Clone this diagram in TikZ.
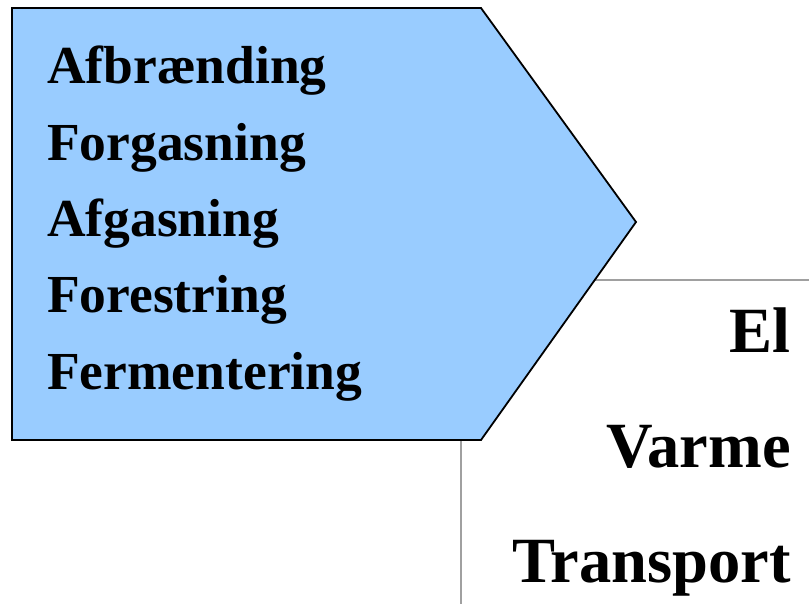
\documentclass[tikz,border=0pt]{standalone}
\usepackage{fontspec}
\setmainfont{Liberation Serif}
\definecolor{lyseblaa}{HTML}{99CCFF}
\definecolor{linjegraa}{HTML}{A0A0A0}
\begin{document}
\begin{tikzpicture}[x=1pt, y=-1pt, line join=miter]
			\def\xmin{12}\def\xmax{481}\def\xtip{636}\def\ytop{8}\def\ybot{440}
			\useasboundingbox (0,0) rectangle (809,604);
			% skillelinjer
			\draw[linjegraa, line width=1.6pt] (560,280) -- (809,280);
			\draw[linjegraa, line width=1.6pt] (461,\ybot) -- (461,604);
			% pil
			\filldraw[fill=lyseblaa, draw=black, line width=1.8pt] (\xmin,\ytop) -- (\xmax,\ytop) -- (\xtip,222) -- (\xmax,\ybot) -- (\xmin,\ybot) -- cycle;
			\foreach \txt [count=\i] in {Afbrænding,Forgasning,Afgasning,Forestring,Fermentering}{
				\node[anchor=base west, inner sep=0pt, font=\fontsize{53.5}{60}\selectfont\bfseries] (proc\i) at (47,{84+76.3*(\i-1)}) {\txt};
			}
			\node[anchor=base east, inner sep=0pt, font=\fontsize{64.5}{70}\selectfont\bfseries] (el) at (791,352) {El};
			\node[anchor=base east, inner sep=0pt, font=\fontsize{64.5}{70}\selectfont\bfseries] (varme) at (791,467) {Varme};
			\node[anchor=base east, inner sep=0pt, font=\fontsize{64.5}{70}\selectfont\bfseries] (transport) at (791,582) {Transport};
		\end{tikzpicture}
\end{document}
